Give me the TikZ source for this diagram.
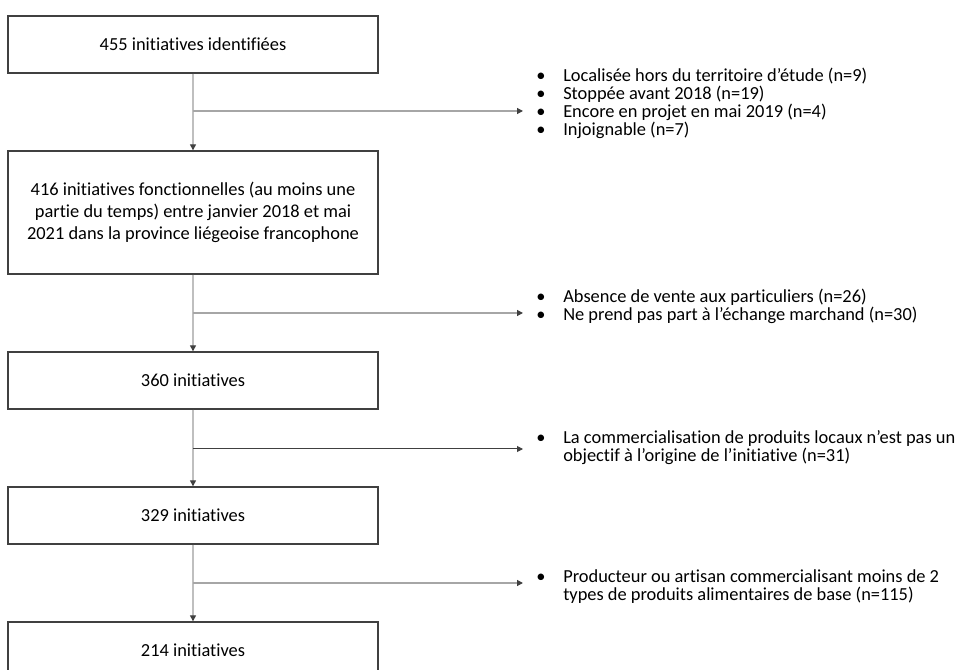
\documentclass[tikz,border=0pt]{standalone}
\usepackage{fontspec}
\setmainfont{Carlito}[RawFeature=-liga]
\usetikzlibrary{arrows.meta}
\definecolor{boxline}{HTML}{404040}
\definecolor{vconn}{HTML}{BFBFBF}
\definecolor{hconn}{HTML}{A6A6A6}
\definecolor{hdark}{HTML}{404040}
\definecolor{tipc}{HTML}{404040}
\begin{document}
\begin{tikzpicture}[x=0.75pt,y=-0.75pt,
  box/.style={draw=boxline,line width=1pt,minimum width=277.5pt,minimum height=42.75pt,
    inner sep=4pt,align=center,font=\fontsize{13.8pt}{16.5pt}\selectfont},
  flow/.style={draw=vconn,line width=0.9pt,-{Triangle[length=4.5pt,width=4.5pt,color=tipc]}},
  branch/.style={draw=hconn,line width=0.9pt,-{Triangle[length=4.5pt,width=4.5pt,color=tipc]}},
  listnode/.style={anchor=base west,inner sep=0pt,align=left,font=\fontsize{13.8pt}{13.5pt}\selectfont}]
\useasboundingbox (0,0) rectangle (958,670);
\clip (0,0) rectangle (958,670);

\newcommand{\bul}{\makebox[21.75pt][l]{\hspace{1.5pt}•}}
\newcommand{\nobul}{\hspace*{21.75pt}}

\node[box] (b1) at (193,44.5) {455 initiatives identifiées};
\node[box,minimum height=92.25pt] (b2) at (193,212.5)
  {416 initiatives fonctionnelles (au moins une\\partie du temps) entre janvier 2018 et mai\\2021 dans la province liégeoise francophone};
\node[box] (b3) at (193,380.5) {360 initiatives};
\node[box] (b4) at (193,515.5) {329 initiatives};
\node[box] (b5) at (193,650.5) {214 initiatives};

% list nodes: the base anchor sits on the baseline of the last line
\node[listnode] (l1) at (534,136)
  {\bul Localisée hors du territoire d’étude (n=9)\\
   \bul Stoppée avant 2018 (n=19)\\
   \bul Encore en projet en mai 2019 (n=4)\\
   \bul Injoignable (n=7)};
\node[listnode] (l2) at (534,321)
  {\bul Absence de vente aux particuliers (n=26)\\
   \bul Ne prend pas part à l’échange marchand (n=30)};
\node[listnode] (l3) at (534,461.5)
  {\bul La commercialisation de produits locaux n’est pas un\\
   \nobul objectif à l’origine de l’initiative (n=31)};
\node[listnode] (l4) at (534,600)
  {\bul Producteur ou artisan commercialisant moins de 2\\
   \nobul types de produits alimentaires de base (n=115)};

\coordinate (j1) at (193,111);
\coordinate (e1) at (523,111);
\coordinate (j2) at (193,313);
\coordinate (e2) at (523,313);
\coordinate (j3) at (193,449);
\coordinate (e3) at (523,449);
\coordinate (j4) at (193,583);
\coordinate (e4) at (523,583);

\draw[flow] (b1.south) -- (b2.north);
\draw[flow] (b2.south) -- (b3.north);
\draw[flow] (b3.south) -- (b4.north);
\draw[flow] (b4.south) -- (b5.north);

\draw[branch] (j1) -- (e1);
\draw[branch] (j2) -- (e2);
\draw[branch,draw=hdark,line width=0.75pt] (j3) -- (e3);
\draw[branch] (j4) -- (e4);
\end{tikzpicture}
\end{document}
